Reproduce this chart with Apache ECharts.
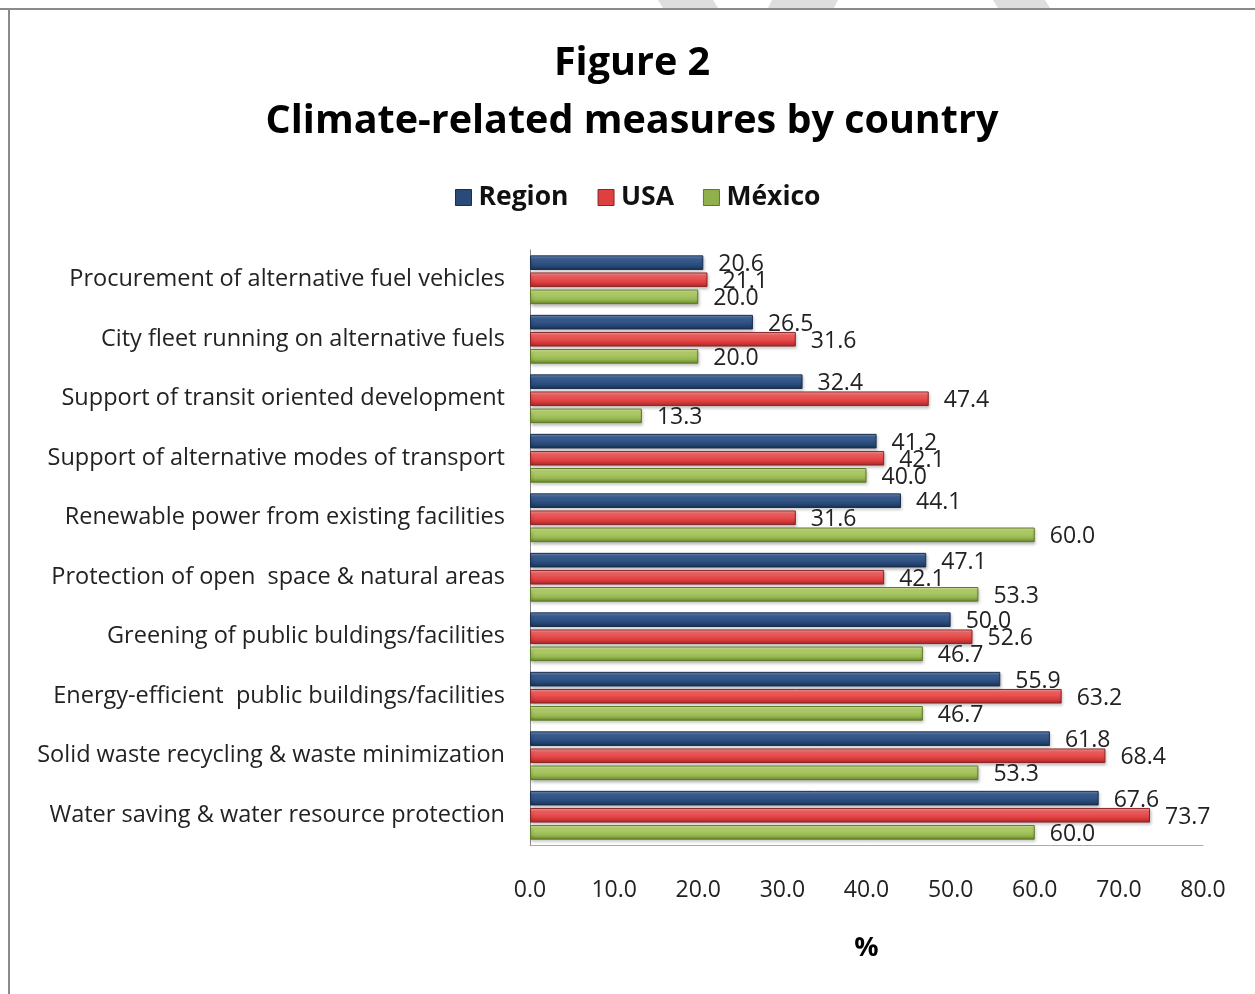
<!DOCTYPE html>
<html>
<head>
<meta charset="utf-8">
<script src="https://cdn.jsdelivr.net/npm/echarts@6/dist/echarts.min.js"></script>
<style>
html,body{margin:0;padding:0;background:#fff;}
#chart{width:1255px;height:994px;}
</style>
</head>
<body>
<div id="chart"></div>
<script>
const categories = [
  "Procurement of alternative fuel vehicles",
  "City fleet running on alternative fuels",
  "Support of transit oriented development",
  "Support of alternative modes of transport",
  "Renewable power from existing facilities",
  "Protection of open  space & natural areas",
  "Greening of public buldings/facilities",
  "Energy-efficient  public buildings/facilities",
  "Solid waste recycling & waste minimization",
  "Water saving & water resource protection"
];
const seriesNames = ["Region", "USA", "México"];
const regionValues = [20.6, 26.5, 32.4, 41.2, 44.1, 47.1, 50.0, 55.9, 61.8, 67.6];
const usaValues    = [21.1, 31.6, 47.4, 42.1, 31.6, 42.1, 52.6, 63.2, 68.4, 73.7];
const mexicoValues = [20.0, 20.0, 13.3, 40.0, 60.0, 53.3, 46.7, 46.7, 53.3, 60.0];
const xTicks = [0, 10, 20, 30, 40, 50, 60, 70, 80];

const FONT = '"Open Sans", Lato, sans-serif';
const TFONT = '"Open Sans", Lato, sans-serif';

function grad(c1, c2, c3, c4) {
  return new echarts.graphic.LinearGradient(0, 0, 0, 1, [
    {offset: 0, color: c1},
    {offset: 0.25, color: c2},
    {offset: 0.7, color: c3},
    {offset: 1, color: c4}
  ]);
}
const styles = [
  {color: grad('#6f8fbf', '#3c5f92', '#284a7a', '#17304f'), borderColor: '#1a2f4d', legend: '#2a4a7a'},
  {color: grad('#ffa0a0', '#f06060', '#dd3c3c', '#9c2a2a'), borderColor: '#8a2525', legend: '#dd4040'},
  {color: grad('#d8ec9c', '#b4d06c', '#97b751', '#66852a'), borderColor: '#5d7a26', legend: '#8fb04a'}
];
const dataSets = [regionValues, usaValues, mexicoValues];

const chart = echarts.init(document.getElementById('chart'));
chart.setOption({
  animation: false,
  backgroundColor: '#fff',
  title: {
    text: 'Figure 2\nClimate-related measures by country',
    left: 627,
    textAlign: 'center',
    top: 30,
    textStyle: {fontFamily: TFONT, fontWeight: 'bold', fontSize: 39.5, lineHeight: 58, color: '#000'}
  },
  legend: {
    data: seriesNames.map((n, i) => ({name: n, itemStyle: {color: styles[i].legend, borderColor: styles[i].borderColor, borderWidth: 1}})),
    left: 450,
    top: 179,
    icon: 'rect',
    itemWidth: 16,
    itemHeight: 16,
    itemGap: 29,
    textStyle: {fontFamily: FONT, fontWeight: 'bold', fontSize: 26.5, color: '#111', padding: [0, 0, 0, 2]}
  },
  grid: {left: 530, right: 52, top: 250, bottom: 149, containLabel: false},
  xAxis: {
    type: 'value',
    min: 0, max: 80, interval: 10,
    axisLine: {show: true, lineStyle: {color: '#aaa', width: 1}},
    axisTick: {show: false},
    splitLine: {show: false},
    axisLabel: {
      margin: 34,
      fontFamily: FONT, fontSize: 23, color: '#222',
      formatter: v => xTicks.includes(v) ? v.toFixed(1) : ''
    },
    name: '%',
    nameLocation: 'middle',
    nameGap: 90,
    nameTextStyle: {fontFamily: FONT, fontWeight: 'bold', fontSize: 27, color: '#000'}
  },
  yAxis: {
    type: 'category',
    inverse: true,
    data: categories,
    axisLine: {show: true, lineStyle: {color: '#888', width: 1}},
    axisTick: {show: false},
    axisLabel: {margin: 25, fontFamily: FONT, fontSize: 23.5, color: '#222'}
  },
  series: seriesNames.map((n, i) => ({
    name: n,
    type: 'bar',
    data: dataSets[i],
    barGap: '17%',
    barCategoryGap: '18%',
    itemStyle: {color: styles[i].color, borderColor: styles[i].borderColor, borderWidth: 1,
      shadowColor: 'rgba(0,0,0,0.25)', shadowBlur: 3, shadowOffsetX: 1, shadowOffsetY: 2},
    label: {
      show: true, position: 'right', distance: 15,
      fontFamily: FONT, fontSize: 23, color: '#222',
      offset: [0, 2],
      formatter: p => p.value.toFixed(1)
    }
  })),
  graphic: [
    {type: 'polygon', shape: {points: [[658, 0], [713, 0], [718, 8], [663, 8]]}, style: {fill: '#dedede'}, silent: true},
    {type: 'polygon', shape: {points: [[768, 8], [834, 8], [838, 0], [772, 0]]}, style: {fill: '#dedede'}, silent: true},
    {type: 'polygon', shape: {points: [[993, 0], [1045, 0], [1050, 8], [998, 8]]}, style: {fill: '#dedede'}, silent: true},
    {type: 'rect', shape: {x: 0, y: 8, width: 1255, height: 2}, style: {fill: '#8a8a8a'}, silent: true},
    {type: 'rect', shape: {x: 8, y: 8, width: 2, height: 986}, style: {fill: '#8a8a8a'}, silent: true}
  ]
});
</script>
</body>
</html>
